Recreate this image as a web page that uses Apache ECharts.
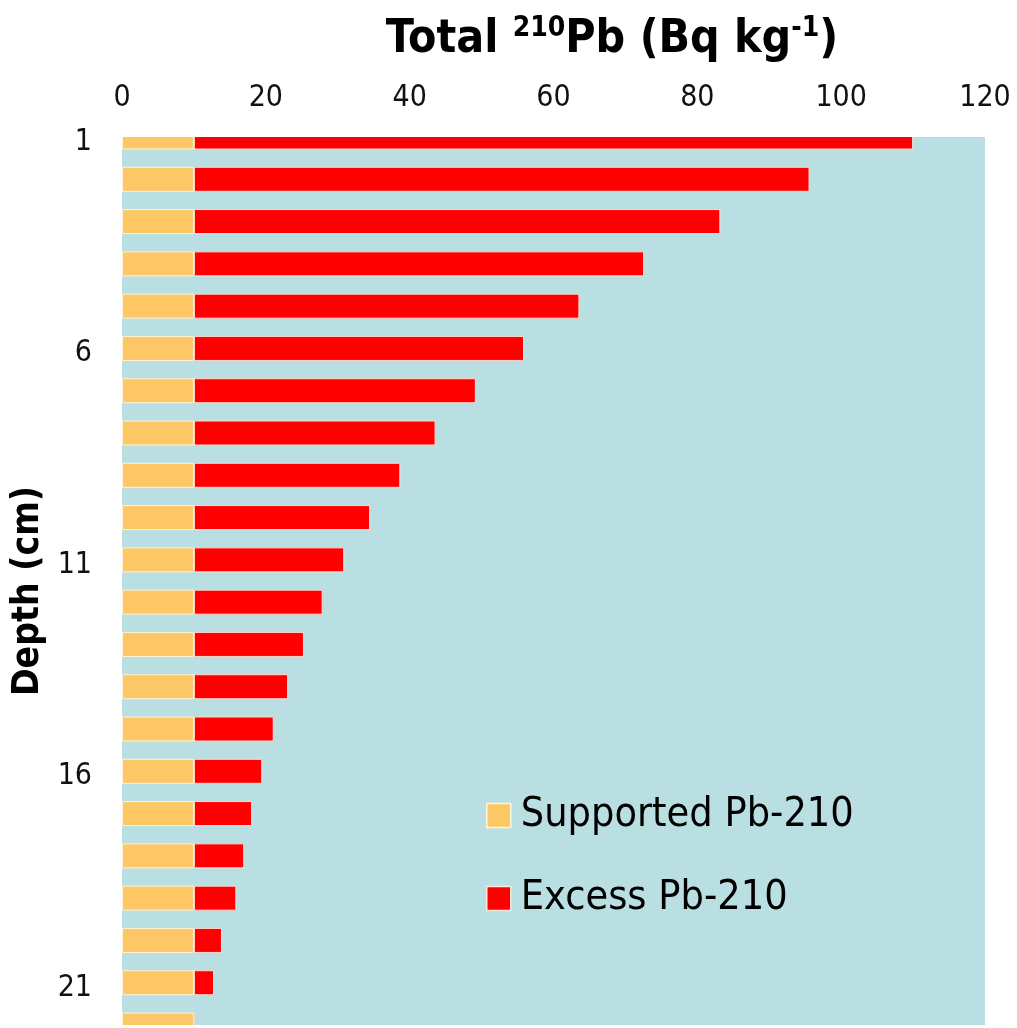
<!DOCTYPE html>
<html>
<head>
<meta charset="utf-8">
<script src="https://cdn.jsdelivr.net/npm/echarts@6/dist/echarts.min.js"></script>
<style>
  html, body { margin: 0; padding: 0; background: #ffffff; }
  #chart { width: 1017px; height: 1028px; }
</style>
</head>
<body>
<div id="chart"></div>
<script>
// Depth categories (cm)
const depths = ['1','2','3','4','5','6','7','8','9','10','11','12','13','14','15','16','17','18','19','20','21','22'];
// Supported Pb-210 (Bq/kg)
const supported = [10,10,10,10,10,10,10,10,10,10,10,10,10,10,10,10,10,10,10,10,10,10];
// Excess Pb-210 (Bq/kg)
const excess = [100,85.6,73.2,62.6,53.6,45.9,39.2,33.6,28.7,24.5,20.9,17.9,15.3,13.1,11.1,9.5,8.1,7.0,5.9,3.9,2.8,0];
// X tick range
const xMin = 0, xMax = 120, xStep = 20;

const FONT = "'DejaVu Sans Condensed', 'DejaVu Sans', sans-serif";
const GRID = { left: 122, right: 32, top: 137, bottom: 3 };
const W = 1017, H = 1028;
const chart = echarts.init(document.getElementById('chart'), null, { renderer: 'canvas' });

chart.setOption({
  animation: false,
  backgroundColor: '#ffffff',
  title: {
    text: '{a|Total }{s|210}{a|Pb (Bq kg}{s|-1}{a|)}',
    left: 607,
    top: 6,
    textAlign: 'center',
    textStyle: {
      rich: {
        a: { fontFamily: FONT, fontWeight: 'bold', fontSize: 46, color: '#000', lineHeight: 58 },
        s: { fontFamily: FONT, fontWeight: 'bold', fontSize: 28, color: '#000', lineHeight: 28, verticalAlign: 'top', padding: [4, 0, 0, 0] }
      }
    }
  },
  legend: {
    orient: 'vertical',
    left: 481,
    top: 790,
    icon: 'rect',
    itemWidth: 24,
    itemHeight: 24,
    itemGap: 42,
    textStyle: { fontFamily: FONT, fontSize: 41, color: '#000', padding: [0, 0, 0, 5] },
    data: [
      { name: 'Supported Pb-210', itemStyle: { borderColor: '#fff6dc', borderWidth: 1.5 } },
      { name: 'Excess Pb-210', itemStyle: { borderColor: '#ffe6e0', borderWidth: 1.5 } }
    ]
  },
  grid: {
    left: GRID.left, right: GRID.right, top: GRID.top, bottom: GRID.bottom,
    outerBoundsMode: 'none',
    containLabel: false,
    show: true,
    backgroundColor: '#badfe3',
    borderWidth: 0
  },
  // white masks trimming the half-bars that overhang the plot area at top and bottom
  graphic: [
    { type: 'rect', z: 100, silent: true,
      shape: { x: GRID.left - 5, y: GRID.top - 22, width: W - GRID.left - GRID.right + 10, height: 22 },
      style: { fill: '#ffffff' } },
    { type: 'rect', z: 100, silent: true,
      shape: { x: GRID.left - 5, y: H - GRID.bottom, width: W - GRID.left - GRID.right + 10, height: 30 },
      style: { fill: '#ffffff' } }
  ],
  xAxis: {
    type: 'value',
    position: 'top',
    min: xMin, max: xMax, interval: xStep,
    axisLine: { show: false },
    axisTick: { show: false },
    splitLine: { show: false },
    axisLabel: { fontFamily: FONT, fontSize: 30, color: '#111', margin: 24 }
  },
  yAxis: {
    type: 'category',
    inverse: true,
    boundaryGap: false,
    data: depths,
    name: 'Depth (cm)',
    nameLocation: 'middle',
    nameRotate: 90,
    nameGap: 72,
    nameTextStyle: { fontFamily: FONT, fontWeight: 'bold', fontSize: 37, color: '#000', padding: [0, 20, 0, 0] },
    axisLine: { show: false },
    axisTick: { show: false },
    splitLine: { show: false },
    axisLabel: {
      interval: 4, margin: 30,
      formatter: '{v|{value}}',
      rich: { v: { fontFamily: FONT, fontSize: 30, color: '#111', padding: [10, 0, 0, 0] } }
    }
  },
  series: [
    {
      name: 'Supported Pb-210',
      type: 'bar',
      stack: 'total',
      barWidth: 25,
      itemStyle: { color: '#fdc766', borderColor: '#fff3d8', borderWidth: 1 },
      data: supported
    },
    {
      name: 'Excess Pb-210',
      type: 'bar',
      stack: 'total',
      barWidth: 25,
      itemStyle: { color: '#ff0000', borderColor: '#ffd8d0', borderWidth: 1 },
      data: excess
    }
  ]
});
</script>
</body>
</html>
